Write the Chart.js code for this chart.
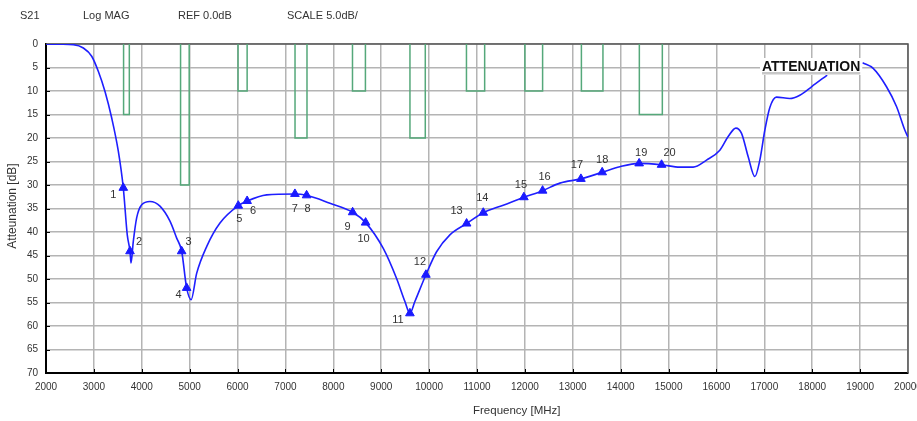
<!DOCTYPE html>
<html>
<head>
<meta charset="utf-8">
<script src="https://cdn.jsdelivr.net/npm/chart.js@4.4.1/dist/chart.umd.min.js"></script>
<style>
  html, body { margin: 0; padding: 0; background: #fff; }
  #wrap { width: 917px; height: 421px; }
</style>
</head>
<body>
<div id="wrap"><canvas id="chart"></canvas></div>
<script>
// S21 attenuation trace (MHz, dB)
const curveFreq = [2000, 2300, 2570, 2780, 2954, 3092, 3232, 3371, 3510, 3614, 3697, 3754, 3775, 3823, 3893, 3998,
  4171, 4380, 4589, 4729, 4833, 4937, 5030, 5146, 5355, 5633, 6015, 6200, 6608, 7198, 7442, 7929, 8403, 8674,
  9043, 9321, 9495, 9599, 9703, 9933, 10156, 10434, 10783, 11131, 11548, 11979, 12370, 12731, 13170, 13614,
  13983, 14386, 14854, 15236, 15514, 15793, 16071, 16245, 16405, 16524, 16663, 16802, 16906, 17011, 17115,
  17254, 17532, 17741, 17985, 18312, 18600, 19051, 19273, 19551, 19760, 19933, 20000];
const curveAtt = [0, 0.05, 0.15, 0.85, 2.6, 5.8, 10.1, 15.7, 22.8, 30.6, 40.6, 44.1, 46.6, 42, 37, 34.2,
  33.5, 34.5, 37.7, 41.3, 44.1, 51.9, 54.4, 48.8, 43.1, 38.1, 34.4, 33.4, 32.1, 31.9, 32.2, 33.9, 35.8, 38.0,
  43.5, 49.9, 54.8, 57.3, 54.8, 49.1, 44.2, 40.6, 38.2, 35.9, 34.3, 32.6, 31.2, 29.6, 28.7, 27.3,
  26.1, 25.4, 25.7, 26.2, 26.2, 24.7, 22.6, 19.7, 17.9, 19, 24, 28.2, 24.7, 18.3, 13.5,
  11.3, 11.6, 10.9, 9.1, 6.6, null, 4, 5.2, 9.1, 13.3, 18.3, 19.8];

// markers 1..20
const markerFreq = [3614, 3754, 4833, 4937, 6015, 6200, 7198, 7442, 8403, 8674, 9599, 9933, 10783, 11131,
  11979, 12370, 13170, 13614, 14386, 14854];
const markerAtt = [30.6, 44.1, 44.1, 51.9, 34.4, 33.4, 31.9, 32.2, 35.8, 38.0, 57.3, 49.1, 38.2, 35.9,
  32.6, 31.2, 28.7, 27.3, 25.4, 25.7];
const markerNames = ['1', '2', '3', '4', '5', '6', '7', '8', '9', '10', '11', '12', '13', '14', '15', '16',
  '17', '18', '19', '20'];

// spec mask windows
const maskLo = [3620, 4810, 6010, 7200, 8400, 9600, 10780, 12000, 13180, 14390];
const maskHi = [3740, 4990, 6200, 7450, 8670, 9920, 11160, 12370, 13630, 14870];
const maskDepth = [15, 30, 10, 20, 10, 20, 10, 10, 10, 15];

const headerTexts = ['S21', 'Log MAG', 'REF 0.0dB', 'SCALE 5.0dB/'];

// label offsets from each marker, px (style only)
const labelOffsets = [[-10, 7], [9, -9], [7, -9], [-8, 7], [1, 13], [6, 10], [0, 15], [1, 14], [-5, 15],
  [-2, 16], [-12, 7], [-6, -13], [-10, -13], [-1, -15], [-3, -12], [2, -14], [-4, -14], [0, -12],
  [2, -10], [8, -12]];
const headerX = [20, 83, 178, 287];

const FONT = '"Liberation Sans", Arial, sans-serif';
const TEXT = '#333333';

const curvePts = curveFreq.map((f, i) => ({ x: f, y: curveAtt[i] }));
const markerPts = markerFreq.map((f, i) => ({ x: f, y: markerAtt[i] }));
const maskPts = [];
maskLo.forEach((lo, i) => {
  maskPts.push({ x: lo, y: 0 }, { x: lo, y: maskDepth[i] }, { x: maskHi[i], y: maskDepth[i] }, { x: maskHi[i], y: 0 });
  maskPts.push({ x: maskHi[i] + 1, y: null });
});

const overlay = {
  id: 'overlay',
  beforeDatasetsDraw(chart) {
    const { ctx, chartArea: a, scales: { x, y } } = chart;
    ctx.save();
    // inner tick marks
    ctx.strokeStyle = '#000';
    ctx.lineWidth = 1;
    for (let v = 5; v < 70; v += 5) {
      const py = Math.round(y.getPixelForValue(v)) + 0.5;
      ctx.beginPath(); ctx.moveTo(a.left, py); ctx.lineTo(a.left + 4, py); ctx.stroke();
    }
    for (let f = 3000; f < 20000; f += 1000) {
      const px = Math.round(x.getPixelForValue(f)) + 0.5;
      ctx.beginPath(); ctx.moveTo(px, a.bottom); ctx.lineTo(px, a.bottom - 4); ctx.stroke();
    }
    // top and right frame
    ctx.strokeStyle = '#555';
    ctx.lineWidth = 1.5;
    ctx.beginPath();
    ctx.moveTo(a.left, a.top); ctx.lineTo(a.right, a.top); ctx.lineTo(a.right, a.bottom);
    ctx.stroke();
    ctx.restore();
  },
  afterDatasetsDraw(chart) {
    const { ctx, chartArea: a, scales: { x, y } } = chart;
    ctx.save();
    ctx.fillStyle = TEXT;
    ctx.font = '11px ' + FONT;
    ctx.textBaseline = 'middle';
    ctx.textAlign = 'left';
    headerTexts.forEach((t, i) => ctx.fillText(t, headerX[i], 16));

    // marker labels
    ctx.textAlign = 'center';
    ctx.font = '11px ' + FONT;
    markerNames.forEach((n, i) => {
      const px = x.getPixelForValue(markerFreq[i]) + labelOffsets[i][0];
      const py = y.getPixelForValue(markerAtt[i]) + labelOffsets[i][1];
      ctx.fillText(n, px, py);
    });

    // axis titles
    ctx.font = '11.5px ' + FONT;
    ctx.textAlign = 'left';
    ctx.fillText('Frequency [MHz]', 473, 411);
    ctx.save();
    ctx.translate(13, 206);
    ctx.rotate(-Math.PI / 2);
    ctx.textAlign = 'center';
    ctx.font = '12px ' + FONT;
    ctx.fillText('Atteunation [dB]', 0, 0);
    ctx.restore();

    // trace label
    ctx.font = 'bold 14px ' + FONT;
    const lw = ctx.measureText('ATTENUATION').width;
    ctx.fillStyle = '#fff';
    ctx.fillRect(760, 58, lw + 4, 17);
    ctx.fillStyle = '#c8c8c8';
    ctx.fillRect(762, 72, lw, 2.5);
    ctx.fillStyle = '#111';
    ctx.textAlign = 'left';
    ctx.fillText('ATTENUATION', 762, 67);
    ctx.restore();
  }
};

new Chart(document.getElementById('chart'), {
  type: 'scatter',
  data: {
    datasets: [
      {
        label: 'markers',
        data: markerPts,
        showLine: false,
        pointStyle: 'triangle',
        pointRadius: 5,
        backgroundColor: '#1a1aff',
        borderColor: '#1a1aff',
        borderWidth: 1
      },
      {
        label: 'S21',
        data: curvePts,
        showLine: true,
        borderColor: '#1f1fff',
        borderWidth: 1.6,
        pointRadius: 0,
        cubicInterpolationMode: 'monotone',
        spanGaps: false
      },
      {
        label: 'mask',
        data: maskPts,
        showLine: true,
        borderColor: '#55a87a',
        borderWidth: 1.5,
        pointRadius: 0,
        tension: 0,
        spanGaps: false
      }
    ]
  },
  options: {
    responsive: true,
    maintainAspectRatio: false,
    animation: false,
    layout: { padding: { top: 44, right: 9, left: 0, bottom: 0 } },
    plugins: { legend: { display: false }, tooltip: { enabled: false } },
    scales: {
      x: {
        type: 'linear',
        min: 2000,
        max: 20000,
        afterFit(s) { s.height = 48; s.paddingLeft = 0; s.paddingRight = 0; },
        ticks: {
          stepSize: 1000,
          autoSkip: false,
          maxRotation: 0,
          padding: 8,
          color: TEXT,
          font: { family: FONT, size: 10 },
          callback: v => String(v)
        },
        grid: { color: '#b4b4b4', lineWidth: 1.5, drawTicks: false },
        border: { color: '#000', width: 2 }
      },
      y: {
        type: 'linear',
        reverse: true,
        min: 0,
        max: 70,
        afterFit(s) { s.width = 46; },
        ticks: {
          stepSize: 5,
          autoSkip: false,
          padding: 8,
          color: TEXT,
          font: { family: FONT, size: 10 }
        },
        grid: { color: '#b4b4b4', lineWidth: 1.5, drawTicks: false },
        border: { color: '#000', width: 2 }
      }
    }
  },
  plugins: [overlay]
});
</script>
</body>
</html>
